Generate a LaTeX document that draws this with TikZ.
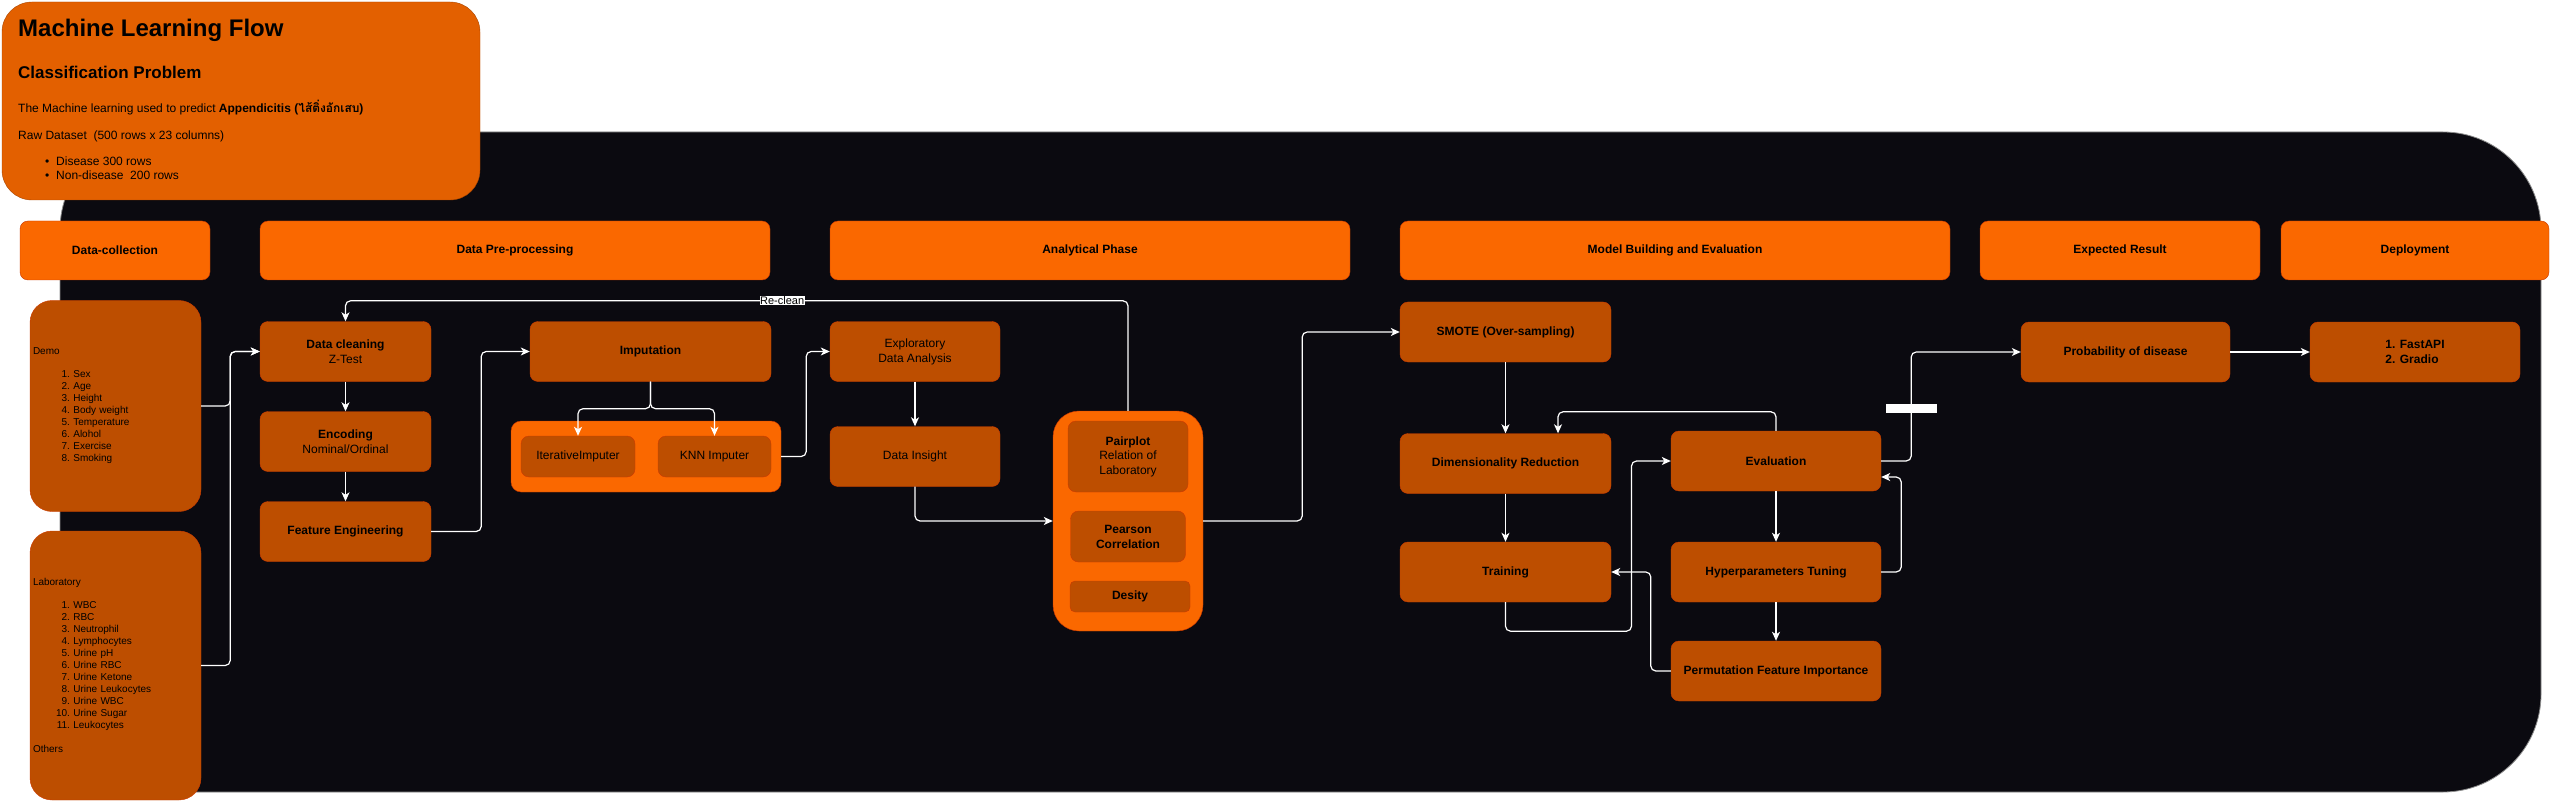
\documentclass[tikz,border=0pt]{standalone}
\usepackage{fontspec}
\setmainfont{Liberation Sans}
\newfontfamily\thaifont[Script=Thai]{Loma}
\usetikzlibrary{arrows.meta}
\definecolor{panel}{RGB}{11,10,16}
\definecolor{phasefill}{RGB}{250,104,0}
\definecolor{phaseline}{RGB}{199,53,0}
\definecolor{stagefill}{RGB}{189,78,0}
\definecolor{stageline}{RGB}{204,58,0}
\definecolor{titlefill}{RGB}{227,96,0}
\definecolor{titleline}{RGB}{170,70,0}
\tikzset{
  phase/.style = {rectangle, rounded corners=8pt, fill=phasefill, draw=phaseline,
                  minimum width=#1, minimum height=59pt, inner sep=0pt,
                  font=\fontsize{12}{15}\selectfont\bfseries},
  phase/.default = 190pt,
  stage/.style = {rectangle, rounded corners=8pt, fill=stagefill, draw=stageline,
                  minimum width=#1, minimum height=60pt, inner sep=0pt, align=center,
                  font=\fontsize{12}{15}\selectfont},
  stage/.default = 171pt,
  flow/.style = {draw=white, line width=1.2pt, rounded corners=5pt,
                 -{Stealth[length=9pt,width=8pt,inset=2.5pt]}},
  lbl/.style = {fill=white, text=black, sharp corners, inner sep=0.6pt,
                font=\fontsize{11}{11}\selectfont}
}

\begin{document}
\begin{tikzpicture}[x=1pt,y=-1pt]
	\useasboundingbox (0,0) rectangle (2551,802);

	% Background
	\fill[panel, draw=black!45, line width=0.8pt, rounded corners=98pt] (60,132) rectangle (2541,792);

	% Title
	\node[rectangle, rounded corners=30pt, fill=titlefill, draw=titleline, minimum width=478pt, minimum height=198pt] (title) at (241,101) {};
	\node[anchor=base west, inner sep=0pt, font=\fontsize{24}{24}\selectfont\bfseries] (tmain) at (18,37) {Machine Learning Flow};
	\node[anchor=base west, inner sep=0pt, font=\fontsize{17}{17}\selectfont\bfseries] (tsub) at (18,79) {Classification Problem};
	\node[anchor=base west, inner sep=0pt, font=\fontsize{12}{12}\selectfont] (tgoal) at (18,113) {The Machine learning used to predict \textbf{Appendicitis (}{\thaifont\bfseries ไส้ติ่งอักเสบ}\textbf{)}};
	\node[anchor=base west, inner sep=0pt, font=\fontsize{12}{12}\selectfont] (traw) at (18,140) {Raw Dataset\ \ (500 rows x 23 columns)};
	\node[anchor=base west, inner sep=0pt, font=\fontsize{12}{12}\selectfont] (tdis) at (56,166) {\llap{\textbullet\hspace{7pt}}Disease 300 rows};
	\node[anchor=base west, inner sep=0pt, font=\fontsize{12}{12}\selectfont] (tnon) at (56,180) {\llap{\textbullet\hspace{7pt}}Non-disease\ \ 200 rows};

	% Phases
	\node[phase=190pt] (hcol) at (115,250.5) {Data-collection};
	\node[phase=510pt] (hpre) at (515,250.5) {Data Pre-processing};
	\node[phase=520pt] (hana) at (1090,250.5) {Analytical Phase};
	\node[phase=550pt] (hmod) at (1675,250.5) {Model Building and Evaluation};
	\node[phase=280pt] (hexp) at (2120,250.5) {Expected Result};
	\node[phase=268pt] (hdep) at (2415,250.5) {Deployment};

	% Data collection
	\node[stage=171pt, minimum height=211pt, rounded corners=22pt, text width=165pt, align=left, font=\fontsize{10}{12}\selectfont] (demo) at (115.5,406) {Demo\\[11pt]
		\hspace*{37pt}\llap{1.} Sex\\ \hspace*{37pt}\llap{2.} Age\\ \hspace*{37pt}\llap{3.} Height\\ \hspace*{37pt}\llap{4.} Body weight\\
		\hspace*{37pt}\llap{5.} Temperature\\ \hspace*{37pt}\llap{6.} Alohol\\ \hspace*{37pt}\llap{7.} Exercise\\ \hspace*{37pt}\llap{8.} Smoking};
	\node[stage=171pt, minimum height=269pt, rounded corners=22pt, text width=165pt, align=left, font=\fontsize{10}{12}\selectfont] (lab) at (115.5,665.5) {Laboratory\\[11pt]
		\hspace*{37pt}\llap{1.} WBC\\ \hspace*{37pt}\llap{2.} RBC\\ \hspace*{37pt}\llap{3.} Neutrophil\\ \hspace*{37pt}\llap{4.} Lymphocytes\\
		\hspace*{37pt}\llap{5.} Urine pH\\ \hspace*{37pt}\llap{6.} Urine RBC\\ \hspace*{37pt}\llap{7.} Urine Ketone\\ \hspace*{37pt}\llap{8.} Urine Leukocytes\\
		\hspace*{37pt}\llap{9.} Urine WBC\\ \hspace*{37pt}\llap{10.} Urine Sugar\\ \hspace*{37pt}\llap{11.} Leukocytes\\[12pt] Others};

	% Pre-processing
	\node[stage] (dclean) at (345.5,351.5) {\textbf{Data cleaning}\\Z-Test};
	\node[stage] (enc) at (345.5,441.5) {\textbf{Encoding}\\Nominal/Ordinal};
	\node[stage] (feat) at (345.5,531.5) {\textbf{Feature Engineering}};
	\node[stage=241pt] (imp) at (650.5,351.5) {\textbf{Imputation}};
	\node[stage=270pt, minimum height=71pt, fill=phasefill, draw=phaseline, rounded corners=10pt] (impbox) at (646,456.5) {};
	\node[stage=114pt, minimum height=41pt] (iter) at (578,456.5) {IterativeImputer};
	\node[stage=113pt, minimum height=41pt] (knn) at (714.5,456.5) {KNN Imputer};

	% Analytical
	\node[stage=170pt] (eda) at (915,351.5) {Exploratory\\Data Analysis};
	\node[stage=170pt] (insight) at (915,456.5) {Data Insight};
	\node[stage=150pt, minimum height=220pt, fill=phasefill, draw=phaseline, rounded corners=26pt] (ana) at (1128,521) {};
	\node[stage=120pt, minimum height=71pt, font=\fontsize{12}{14.5}\selectfont] (pair) at (1128,456.5) {\textbf{Pairplot}\\Relation of\\Laboratory};
	\node[stage=115pt, minimum height=51pt] (pear) at (1128,536.5) {\textbf{Pearson}\\\textbf{Correlation}};
	\node[stage=120pt, minimum height=31pt, rounded corners=5pt] (desity) at (1130,596.5) {\textbf{Desity}};

	% Model building
	\node[stage=211pt] (smote) at (1505.5,332) {\textbf{SMOTE (Over-sampling)}};
	\node[stage=211pt] (dimred) at (1505.5,463.5) {\textbf{Dimensionality Reduction}};
	\node[stage=211pt] (train) at (1505.5,572) {\textbf{Training}};
	\node[stage=210pt] (eval) at (1776,461) {\textbf{Evaluation}};
	\node[stage=210pt] (hyper) at (1776,572) {\textbf{Hyperparameters Tuning}};
	\node[stage=210pt] (perm) at (1776,671) {\textbf{Permutation Feature Importance}};

	% Result and deployment
	\node[stage=209pt] (prob) at (2125.5,352) {\textbf{Probability of disease}};
	\node[stage=210pt, align=left] (deploy) at (2415,352) {\textbf{1. FastAPI}\\\textbf{2. Gradio}};

	% Connectors
	\draw[flow] (demo.east) -- ++(29,0) |- (dclean.west);
	\draw[flow] (lab.east) -- ++(29,0) |- (dclean.west);
	\draw[flow] (dclean) -- (enc);
	\draw[flow] (enc) -- (feat);
	\draw[flow] (feat.east) -- ++(50,0) |- (imp.west);
	\draw[flow] (imp.south) -- ++(0,27) -| (iter.north);
	\draw[flow] (imp.south) -- ++(0,27) -| (knn.north);
	\draw[flow] (impbox.east) -- ++(25,0) |- (eda.west);
	\draw[flow] (eda) -- (insight);
	\draw[flow] (insight.south) |- (ana.west);
	\draw[flow] (ana.north) -- ++(0,-110) -| node[lbl, pos=0.221] (reclean) {Re-clean} (dclean.north);
	\draw[flow] (ana.east) -- ++(99,0) |- (smote.west);
	\draw[flow] (smote) -- (dimred);
	\draw[flow] (dimred) -- (train);
	\draw[flow] (train.south) -- ++(0,29) -- ++(126,0) |- (eval.west);
	\draw[flow] (eval.north) -- ++(0,-19) -| ([xshift=52.5pt]dimred.north);
	\draw[flow] (eval) -- (hyper);
	\draw[flow] (hyper) -- (perm);
	\draw[flow] (hyper.east) -- ++(20,0) |- ([yshift=-16pt]eval.east);
	\draw[flow] (perm.west) -- ++(-20,0) |- (train.east);
	\draw[flow] (eval.east) -- ++(30,0) |- node[lbl, pos=0.24, text=white, font=\fontsize{10}{10}\selectfont] (best) {Best Model} (prob.west);
	\draw[flow] (prob) -- (deploy);

\end{tikzpicture}
\end{document}
